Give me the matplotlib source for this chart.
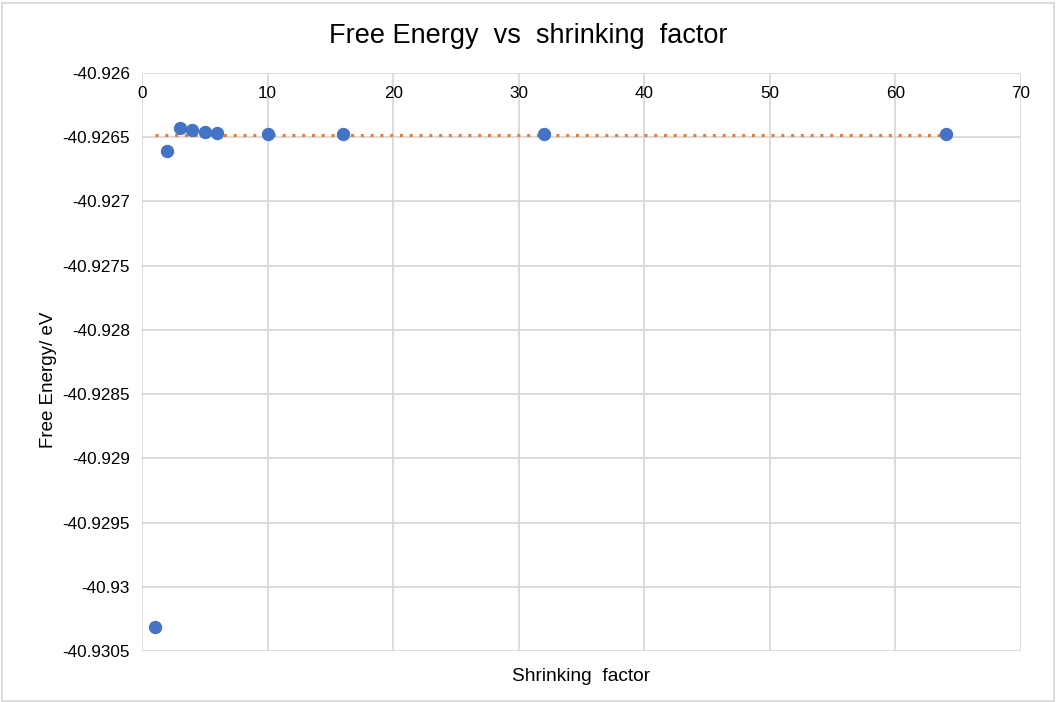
import matplotlib.pyplot as plt
from matplotlib.patches import Rectangle
from matplotlib.ticker import FuncFormatter, MultipleLocator

# data
shrink = [1, 2, 3, 4, 5, 6, 10, 16, 32, 64]
energy = [-40.930312, -40.926605, -40.926431, -40.926446, -40.926457,
          -40.926467, -40.926475, -40.926475, -40.926476, -40.926477]
conv_x = [1, 64]
conv_y = [-40.92648, -40.92648]

plt.rcParams['font.family'] = ['Liberation Sans', 'DejaVu Sans']

fig = plt.figure(figsize=(10.56, 7.02), dpi=100)
ax = fig.add_axes([142 / 1056, 1 - 651 / 702, (1021 - 142) / 1056, (651 - 73) / 702])

ax.plot(conv_x, conv_y, ls=(0, (1, 2.2)), color='#ED7D31', lw=2.2, zorder=2)
ax.plot(shrink, energy, 'o', color='#4472C4', ms=8.6, zorder=3)

ax.set_xlim(0, 70)
ax.set_ylim(-40.9305, -40.926)
ax.xaxis.set_major_locator(MultipleLocator(10))
ax.yaxis.set_major_locator(MultipleLocator(0.0005))
ax.yaxis.set_major_formatter(FuncFormatter(lambda v, p: ('%.4f' % v).rstrip('0')))

ax.grid(True, color='#d9d9d9', lw=1.3)
ax.set_axisbelow(True)
for s in ax.spines.values():
    s.set_visible(False)

ax.tick_params(axis='x', top=True, labeltop=True, bottom=False, labelbottom=False,
               length=0, pad=-20, labelsize=12.3)
ax.tick_params(axis='y', length=0, pad=8.6, labelsize=12.3)

ax.set_xlabel('Shrinking  factor', fontsize=13.8)
ax.xaxis.set_label_coords(0.5, -0.029)
ax.set_ylabel('Free Energy/ eV', fontsize=13.5)
ax.yaxis.set_label_coords(-0.097, 0.469)
fig.suptitle('Free Energy  vs  shrinking  factor', fontsize=19.5, y=0.967)

fig.patches.append(Rectangle((0.002, 0.002), 0.996, 0.994, transform=fig.transFigure,
                             fill=False, edgecolor='#d9d9d9', lw=1.3))

fig.savefig('out.png', dpi=100)
